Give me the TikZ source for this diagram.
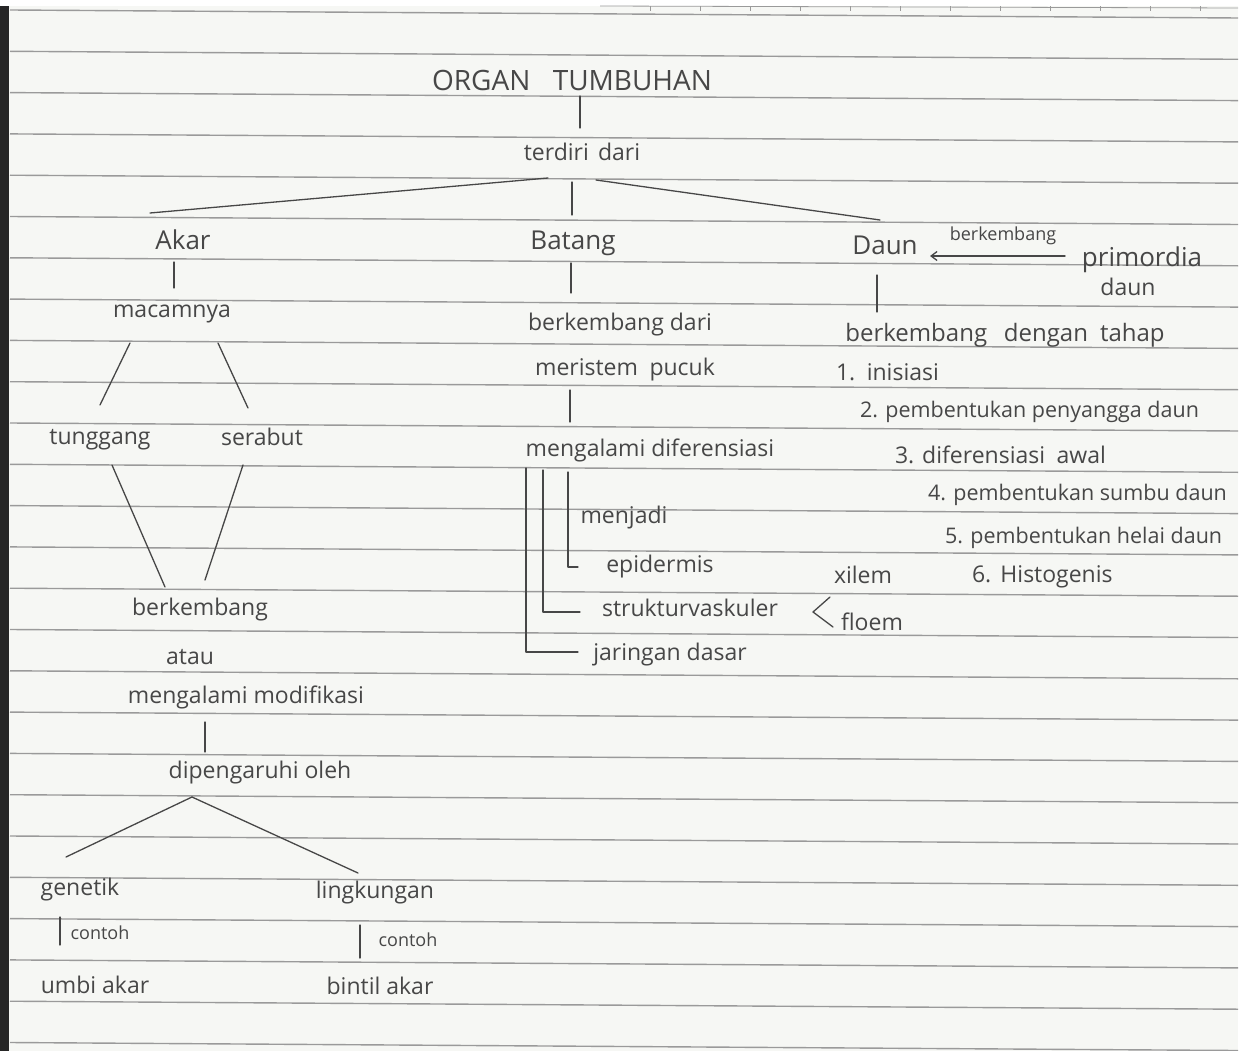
\documentclass[tikz,border=0pt]{standalone}
\usepackage{fontspec}
\newfontfamily\hand{Open Sans}
\usetikzlibrary{arrows.meta}
\definecolor{ink}{HTML}{474747}
\definecolor{rule}{HTML}{9A9A9A}
\definecolor{paper}{HTML}{F6F7F4}
\tikzset{
  hw/.style={font=\hand\fontsize{23}{26}\selectfont, text=ink, inner sep=0pt, outer sep=0pt},
  hwsmall/.style={hw, font=\hand\fontsize{18}{20}\selectfont},
  hwmid/.style={hw, font=\hand\fontsize{21.5}{24}\selectfont},
  hwbig/.style={hw, font=\hand\fontsize{26}{28}\selectfont},
  con/.style={draw=ink, line width=1.3pt, line cap=round, line join=round},
}
\begin{document}
\begin{tikzpicture}[x=1pt,y=-1pt]
\useasboundingbox (0,0) rectangle (1257,1051);
% paper
\fill[white] (0,0) rectangle (1257,1051);
\fill[paper] (8,6) rectangle (1238,1051);
\fill[black!85] (0,6) rectangle (9,1051);
\foreach \k in {0,...,25}{
  \draw[rule, line width=1.4pt] (10,{10+41.3*\k}) -- (1238,{18+41.3*\k});
}
\draw[rule, line width=0.8pt] (600,6) -- (1238,8);
\foreach \t in {650,700,...,1230}{
  \draw[rule, line width=0.6pt] (\t,6.5) -- (\t,11);
}

% ---- top
\node[hwbig, font=\hand\fontsize{28}{30}\selectfont] (title) at (572,80) {ORGAN\hspace{0.8em}TUMBUHAN};
\node[hw] (terdiri) at (582,152) {terdiri\hspace{0.4em}dari};
\node[hwbig] (akar) at (183,240) {Akar};
\node[hwbig] (batang) at (573,243) {Batang};
\node[hwbig] (daun) at (885,245) {Daun};
\node[hwsmall] (berk) at (1003,236) {berkembang};
\node[hwbig] (primordia) at (1142,260) {primordia};
\node[hw] (pdaun) at (1128,287) {daun};

% ---- Akar branch
\node[hw] (macamnya) at (172,314) {macamnya};
\node[hw] (tunggang) at (100,440) {tunggang};
\node[hw] (serabut) at (262,437) {serabut};
\node[hw] (berkA) at (200,610) {berkembang};
\node[hw] (atau) at (190,657) {atau};
\node[hw] (modif) at (246,697) {mengalami modifikasi};
\node[hw] (dipeng) at (260,773) {dipengaruhi oleh};
\node[hw] (genetik) at (80,890) {genetik};
\node[hw] (lingk) at (375,893) {lingkungan};
\node[hwsmall] (contoh1) at (100,933) {contoh};
\node[hw] (umbi) at (95,985) {umbi akar};
\node[hwsmall] (contoh2) at (408,940) {contoh};
\node[hw] (bintil) at (380,986) {bintil akar};

% ---- Batang branch
\node[hw] (bdari) at (620,325) {berkembang dari};
\node[hw] (meristem) at (625,370) {meristem\hspace{0.5em}pucuk};
\node[hw] (difer) at (650,450) {mengalami diferensiasi};
\node[hw] (menjadi) at (624,518) {menjadi};
\node[hw] (epid) at (660,567) {epidermis};
\node[hw] (struk) at (690,608) {strukturvaskuler};
\node[hw] (jar) at (670,655) {jaringan dasar};
\node[hw] (xilem) at (863,575) {xilem};
\node[hw] (floem) at (872,622) {floem};

% ---- Daun branch
\node[hw, font=\hand\fontsize{24}{26}\selectfont] (tahap) at (1005,335) {berkembang\hspace{0.7em}dengan\hspace{0.5em}tahap};
\node[hw, anchor=west] (s1) at (836,372) {1.\hspace{0.5em}inisiasi};
\node[hwmid, anchor=west] (s2) at (860,412) {2. pembentukan penyangga daun};
\node[hw, anchor=west] (s3) at (895,455) {3. diferensiasi\hspace{0.5em}awal};
\node[hwmid, anchor=west] (s4) at (928,495) {4. pembentukan sumbu daun};
\node[hwmid, anchor=west] (s5) at (945,538) {5. pembentukan helai daun};
\node[hw, anchor=west] (s6) at (972,577) {6.\hspace{0.4em}Histogenis};

% ---- connectors
\draw[con] ([shift={(8,16)}]title.center) -- ([shift={(-2,-24)}]terdiri.center);
\draw[con] ([shift={(-34,26)}]terdiri.center) -- ([shift={(-33,-27)}]akar.center);
\draw[con] ([shift={(-10,30)}]terdiri.center) -- ([shift={(-1,-28)}]batang.center);
\draw[con] ([shift={(14,28)}]terdiri.center) -- ([shift={(-5,-25)}]daun.center);

\draw[con] ([shift={(-9,22)}]akar.center) -- ([shift={(2,-26)}]macamnya.center);
\draw[con] ([shift={(-42,29)}]macamnya.center) -- ([shift={(0,-35)}]tunggang.center);
\draw[con] ([shift={(46,29)}]macamnya.center) -- ([shift={(-14,-29)}]serabut.center);
\draw[con] ([shift={(12,25)}]tunggang.center) -- ([shift={(-35,-23)}]berkA.center);
\draw[con] ([shift={(-19,28)}]serabut.center) -- ([shift={(5,-30)}]berkA.center);
\draw[con] ([shift={(-41,25)}]modif.center) -- ([shift={(-55,-21)}]dipeng.center);
\draw[con] ([shift={(-68,24)}]dipeng.center) -- ([shift={(-14,-33)}]genetik.center);
\draw[con] ([shift={(-68,24)}]dipeng.center) -- ([shift={(-17,-20)}]lingk.center);
\draw[con] ([shift={(-20,27)}]genetik.center) -- ([shift={(-35,-40)}]umbi.center);
\draw[con] ([shift={(-15,32)}]lingk.center) -- ([shift={(-20,-28)}]bintil.center);

\draw[con] ([shift={(-2,20)}]batang.center) -- ([shift={(-49,-32)}]bdari.center);
\draw[con] ([shift={(-55,20)}]meristem.center) -- ([shift={(-80,-28)}]difer.center);
\draw[con] ([shift={(-82,22)}]difer.center) |- ([shift={(-82,0)}]epid.center);
\draw[con] ([shift={(-107,20)}]difer.center) |- ([shift={(-110,4)}]struk.center);
\draw[con] ([shift={(-124,18)}]difer.center) |- ([shift={(-92,-3)}]jar.center);
\coordinate (vtx) at ([shift={(123,4)}]struk.center);
\draw[con] ([shift={(-33,22)}]xilem.center) -- (vtx) -- ([shift={(-39,5)}]floem.center);

\draw[con] ([shift={(-8,30)}]daun.center) -- ([shift={(-128,-23)}]tahap.center);
\draw[con, -{Straight Barb[length=6pt,width=9pt]}] ([shift={(-77,-4)}]primordia.center) -- ([shift={(45,11)}]daun.center);
\end{tikzpicture}
\end{document}
